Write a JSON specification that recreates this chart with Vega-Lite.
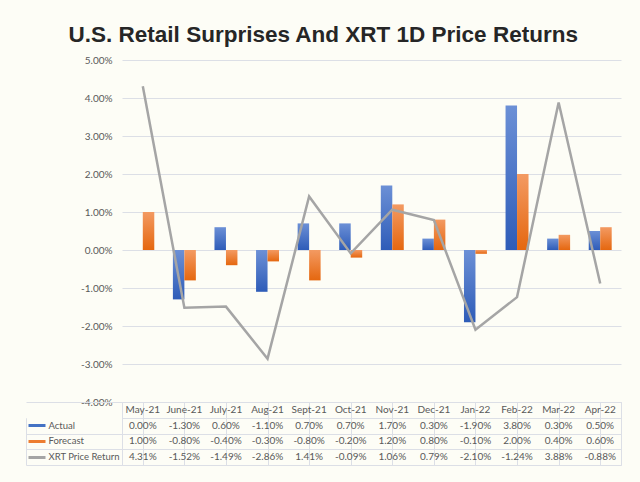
{
  "$schema": "https://vega.github.io/schema/vega-lite/v6.json",
  "background": "#FDFDF6",
  "padding": {"left": 25, "right": 20, "top": 23, "bottom": 16},
  "title": {"text": "U.S. Retail Surprises And XRT 1D Price Returns", "font": "Liberation Sans", "fontSize": 22.5, "fontWeight": "bold", "color": "#262626", "anchor": "middle", "offset": 9},
  "datasets": {
    "d": [
      {"month": "May-21", "Actual": 0.0, "Forecast": 0.010, "XRT Price Return": 0.0431},
      {"month": "June-21", "Actual": -0.013, "Forecast": -0.008, "XRT Price Return": -0.0152},
      {"month": "July-21", "Actual": 0.006, "Forecast": -0.004, "XRT Price Return": -0.0149},
      {"month": "Aug-21", "Actual": -0.011, "Forecast": -0.003, "XRT Price Return": -0.0286},
      {"month": "Sept-21", "Actual": 0.007, "Forecast": -0.008, "XRT Price Return": 0.0141},
      {"month": "Oct-21", "Actual": 0.007, "Forecast": -0.002, "XRT Price Return": -0.0009},
      {"month": "Nov-21", "Actual": 0.017, "Forecast": 0.012, "XRT Price Return": 0.0106},
      {"month": "Dec-21", "Actual": 0.003, "Forecast": 0.008, "XRT Price Return": 0.0079},
      {"month": "Jan-22", "Actual": -0.019, "Forecast": -0.001, "XRT Price Return": -0.021},
      {"month": "Feb-22", "Actual": 0.038, "Forecast": 0.020, "XRT Price Return": -0.0124},
      {"month": "Mar-22", "Actual": 0.003, "Forecast": 0.004, "XRT Price Return": 0.0388},
      {"month": "Apr-22", "Actual": 0.005, "Forecast": 0.006, "XRT Price Return": -0.0088}
    ]
  },
  "data": {"name": "d"},
  "spacing": 0,
  "bounds": "flush",
  "vconcat": [
    {
      "width": 499,
      "height": 342,
      "encoding": {
        "x": {"field": "month", "type": "nominal", "sort": null, "scale": {"paddingInner": 0, "paddingOuter": 0}, "axis": null}
      },
      "layer": [
        {
          "transform": [{"fold": ["Actual", "Forecast"], "as": ["series", "value"]}],
          "mark": {"type": "bar"},
          "encoding": {
            "xOffset": {"field": "series", "type": "nominal", "scale": {"domain": ["Actual", "Forecast"], "paddingInner": 0, "paddingOuter": 0.81}},
            "y": {
              "field": "value", "type": "quantitative",
              "scale": {"domain": [-0.04, 0.05], "nice": false},
              "axis": {"values": [-0.04, -0.03, -0.02, -0.01, 0, 0.01, 0.02, 0.03, 0.04, 0.05], "labelOverlap": false, "format": ".2%", "title": null, "domain": false, "ticks": false, "labelPadding": 10, "grid": true, "gridColor": "#DCDFE6"}
            },
            "color": {
              "condition": {"test": "datum.series === 'Actual'", "value": {"gradient": "linear", "x1": 0, "y1": 0, "x2": 0, "y2": 1, "stops": [{"offset": 0, "color": "#6C90D6"}, {"offset": 1, "color": "#2E5CB8"}]}},
              "value": {"gradient": "linear", "x1": 0, "y1": 0, "x2": 0, "y2": 1, "stops": [{"offset": 0, "color": "#F39A62"}, {"offset": 1, "color": "#E5670F"}]}
            }
          }
        },
        {
          "mark": {"type": "line", "color": "#A5A5A5", "strokeWidth": 2.5},
          "encoding": {
            "y": {"field": "XRT Price Return", "type": "quantitative",
              "scale": {"domain": [-0.04, 0.05], "nice": false},
              "axis": {"values": [-0.04, -0.03, -0.02, -0.01, 0, 0.01, 0.02, 0.03, 0.04, 0.05], "labelOverlap": false, "format": ".2%", "title": null, "domain": false, "ticks": false, "labelPadding": 10, "grid": true, "gridColor": "#DCDFE6"}}
          }
        }
      ]
    },
    {
      "width": 499,
      "height": 63,
      "view": {"stroke": "#DCDFE6"},
      "encoding": {
        "x": {"field": "month", "type": "nominal", "sort": null, "scale": {"paddingInner": 0, "paddingOuter": 0}, "axis": {"grid": true, "bandPosition": 0, "labels": false, "ticks": false, "domain": false, "title": null, "gridColor": "#DCDFE6"}}
      },
      "layer": [
        {
          "mark": {"type": "text", "font": "Lato", "fontSize": 10, "color": "#595959"},
          "encoding": {
            "y": {"datum": "h", "type": "nominal", "scale": {"domain": ["h", "Actual", "Forecast", "XRT Price Return"], "paddingInner": 0, "paddingOuter": 0},
              "axis": {"orient": "left", "title": null, "domain": false, "ticks": false, "grid": false, "labelAlign": "left", "labelPadding": 74, "labelFontSize": 9.5, "labelExpr": "datum.value === 'h' ? '' : datum.value"}},
            "text": {"field": "month"}
          }
        },
        {
          "transform": [{"fold": ["Actual", "Forecast", "XRT Price Return"], "as": ["series", "value"]}],
          "mark": {"type": "text", "font": "Lato", "fontSize": 10, "color": "#595959"},
          "encoding": {
            "y": {"field": "series", "type": "nominal", "scale": {"domain": ["h", "Actual", "Forecast", "XRT Price Return"], "paddingInner": 0, "paddingOuter": 0},
              "axis": {"orient": "left", "title": null, "labels": false, "domain": true, "domainColor": "#DCDFE6", "ticks": true, "tickSize": 96, "tickBand": "extent", "tickColor": {"condition": {"test": "datum.value === 'h'", "value": "transparent"}, "value": "#DCDFE6"}, "grid": true, "gridColor": "#DCDFE6"}},
            "text": {"field": "value", "type": "quantitative", "format": ".2%"}
          }
        },
        {
          "transform": [{"fold": ["Actual", "Forecast", "XRT Price Return"], "as": ["series", "value"]}],
          "mark": {"type": "text"},
          "encoding": {
            "y": {"field": "series", "type": "nominal", "scale": {"domain": ["h", "Actual", "Forecast", "XRT Price Return"], "paddingInner": 0, "paddingOuter": 0},
              "axis": {"orient": "left", "offset": 77, "title": null, "labels": false, "domain": false, "grid": false, "ticks": true, "tickSize": 17, "tickWidth": 3, "tickBand": "center",
                "tickColor": {"condition": [{"test": "datum.value === 'Actual'", "value": "#4472C4"}, {"test": "datum.value === 'Forecast'", "value": "#ED7D31"}, {"test": "datum.value === 'XRT Price Return'", "value": "#A5A5A5"}], "value": "transparent"}}},
            "text": {"value": ""}
          }
        },
        {
          "transform": [{"fold": ["Actual", "Forecast", "XRT Price Return"], "as": ["series", "value"]}],
          "mark": {"type": "text"},
          "encoding": {
            "y": {"field": "series", "type": "nominal", "scale": {"domain": ["h", "Actual", "Forecast", "XRT Price Return"], "paddingInner": 0, "paddingOuter": 0},
              "axis": {"orient": "left", "offset": 96, "title": null, "labels": false, "ticks": false, "grid": false, "domain": true, "domainColor": "#DCDFE6", "domainDash": [0, 15.75, 47.25, 40]}},
            "text": {"value": ""}
          }
        }
      ],
      "resolve": {"axis": {"y": "independent"}}
    }
  ],
  "config": {
    "view": {"stroke": null},
    "axis": {"labelFont": "Lato", "labelFontSize": 10, "labelColor": "#595959"},
    "locale": {"number": {"decimal": ".", "thousands": ",", "grouping": [3], "currency": ["$", ""], "minus": "-"}}
  }
}
